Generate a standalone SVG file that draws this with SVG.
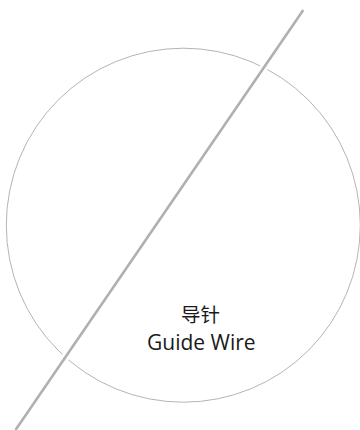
<svg xmlns="http://www.w3.org/2000/svg" width="360" height="430" viewBox="0 0 360 430">
<defs>
<style>
.ring{fill:none;stroke:#b4b4b4;stroke-width:1}
.halo{stroke:#ffffff;stroke-width:8;stroke-linecap:butt}
.wire{stroke:#b0b0b0;stroke-width:2.6;stroke-linecap:butt}
.lbl{font-family:"Open Sans","Noto Sans CJK SC",sans-serif;fill:#1a1a1a;text-anchor:middle}
</style>
<filter id="soft" x="-10%" y="-10%" width="120%" height="120%"><feGaussianBlur stdDeviation="0.5"/></filter>
</defs>
<g id="circle-node">
<circle class="ring" cx="183.3" cy="225.2" r="177"/>
</g>
<g id="connectors">
<line class="halo" x1="303.3" y1="10" x2="15.5" y2="430"/>
<line class="wire" x1="303.3" y1="10" x2="15.5" y2="430" filter="url(#soft)"/>
</g>
<g id="label">
<text class="lbl" x="200.5" y="321.5" font-size="19.5">导针</text>
<text class="lbl" x="201.3" y="350" font-size="21">Guide Wire</text>
</g>
</svg>
